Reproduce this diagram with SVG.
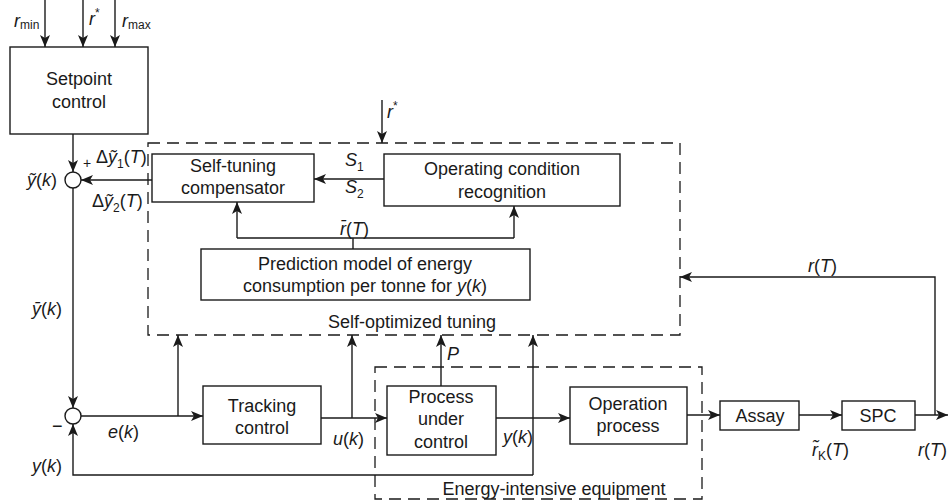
<svg xmlns="http://www.w3.org/2000/svg" width="949" height="503" viewBox="0 0 949 503">
<defs>
<style>
.box{fill:#fff;stroke:#1a1a1a;stroke-width:1.4}
.dash{fill:none;stroke:#1a1a1a;stroke-width:1.3;stroke-dasharray:12 7}
.ln{fill:none;stroke:#1a1a1a;stroke-width:1.4}
.ar{fill:none;stroke:#1a1a1a;stroke-width:1.4;marker-end:url(#ah)}
text{font-family:"Liberation Sans",Arial,sans-serif;font-size:18px;fill:#1a1a1a}
.c{text-anchor:middle}
.i{font-style:italic}
.sub{font-size:12px;font-style:normal}
</style>
<marker id="ah" markerUnits="userSpaceOnUse" markerWidth="12" markerHeight="10" refX="12" refY="5" orient="auto">
<path d="M0,0 L12,5 L0,10 L3,5 z" fill="#1a1a1a"/>
</marker>
</defs>
<rect width="949" height="503" fill="#fff"/>

<g id="self-optimized-tuning">
<rect class="dash" x="148" y="143" width="532" height="192"/>
<text class="c" x="412" y="328">Self-optimized tuning</text>
</g>
<g id="energy-intensive-equipment">
<rect class="dash" x="375" y="367" width="327" height="132"/>
<text class="c" x="554" y="495">Energy-intensive equipment</text>
</g>

<g id="connectors">
<path class="ar" d="M45,0 V47"/>
<path class="ar" d="M83,0 V47"/>
<path class="ar" d="M115,0 V47"/>
<path class="ar" d="M73,134 V172"/>
<path class="ar" d="M152,180 H81"/>
<path class="ar" d="M73,188 V408"/>
<path class="ar" d="M382,100 V143"/>
<path class="ar" d="M384,179 H314"/>
<path class="ln" d="M353,249 V238 M237,238 H514"/>
<path class="ar" d="M237,238 V202"/>
<path class="ar" d="M514,238 V206"/>
<path class="ar" d="M81,416 H203"/>
<path class="ar" d="M178,416 V335"/>
<path class="ar" d="M321,418 H387"/>
<path class="ar" d="M352,418 V335"/>
<path class="ar" d="M441,386 V335"/>
<path class="ar" d="M496,418 H570"/>
<path class="ar" d="M533,475 V335"/>
<path class="ar" d="M533,475 H73 V424"/>
<path class="ar" d="M687,415 H720"/>
<path class="ar" d="M799,415 H842"/>
<path class="ar" d="M915,415 H948"/>
<path class="ar" d="M935,415 V277 H680"/>
</g>

<g id="setpoint-control">
<rect class="box" x="10" y="47" width="138" height="87"/>
<text class="c" x="79" y="85">Setpoint</text>
<text class="c" x="79" y="108">control</text>
</g>
<g id="sum-top"><circle class="box" cx="73" cy="180" r="8"/></g>
<g id="sum-bottom"><circle class="box" cx="73" cy="416" r="8"/></g>
<g id="self-tuning-compensator">
<rect class="box" x="152" y="154" width="162" height="48"/>
<text class="c" x="233" y="172">Self-tuning</text>
<text class="c" x="233" y="194">compensator</text>
</g>
<g id="operating-condition-recognition">
<rect class="box" x="384" y="154" width="236" height="52"/>
<text class="c" x="502" y="175">Operating condition</text>
<text class="c" x="502" y="198">recognition</text>
</g>
<g id="prediction-model">
<rect class="box" x="201" y="249" width="329" height="51"/>
<text class="c" x="365" y="270">Prediction model of energy</text>
<text class="c" x="365" y="292">consumption per tonne for <tspan class="i">y</tspan>(<tspan class="i">k</tspan>)</text>
</g>
<g id="tracking-control">
<rect class="box" x="203" y="386" width="118" height="58"/>
<text class="c" x="262" y="412">Tracking</text>
<text class="c" x="262" y="434">control</text>
</g>
<g id="process-under-control">
<rect class="box" x="387" y="386" width="109" height="69"/>
<text class="c" x="441" y="403">Process</text>
<text class="c" x="441" y="425">under</text>
<text class="c" x="441" y="448">control</text>
</g>
<g id="operation-process">
<rect class="box" x="570" y="387" width="117" height="57"/>
<text class="c" x="628" y="410">Operation</text>
<text class="c" x="628" y="432">process</text>
</g>
<g id="assay">
<rect class="box" x="720" y="401" width="79" height="29"/>
<text class="c" x="760" y="422">Assay</text>
</g>
<g id="spc">
<rect class="box" x="842" y="401" width="73" height="29"/>
<text class="c" x="878" y="422">SPC</text>
</g>

<g id="labels">
<text x="14" y="27"><tspan class="i">r</tspan><tspan class="sub" dy="2">min</tspan></text>
<text x="89" y="25"><tspan class="i">r</tspan><tspan class="sub" dy="-8">*</tspan></text>
<text x="122" y="27"><tspan class="i">r</tspan><tspan class="sub" dy="2">max</tspan></text>
<text x="387" y="118"><tspan class="i">r</tspan><tspan class="sub" dy="-8">*</tspan></text>
<text x="83" y="168" style="font-size:14px">+</text>
<text x="27" y="186"><tspan class="i">ỹ</tspan>(<tspan class="i">k</tspan>)</text>
<text x="96" y="163">Δ<tspan class="i">ỹ</tspan><tspan class="sub" dy="5">1</tspan><tspan dy="-5">(</tspan><tspan class="i">T</tspan>)</text>
<text x="92" y="207">Δ<tspan class="i">ỹ</tspan><tspan class="sub" dy="5">2</tspan><tspan dy="-5">(</tspan><tspan class="i">T</tspan>)</text>
<text x="345" y="166"><tspan class="i">S</tspan><tspan class="sub" dy="5">1</tspan></text>
<text x="345" y="193"><tspan class="i">S</tspan><tspan class="sub" dy="5">2</tspan></text>
<text x="340" y="235"><tspan class="i">r̄</tspan>(<tspan class="i">T</tspan>)</text>
<text x="32" y="315"><tspan class="i">ȳ</tspan>(<tspan class="i">k</tspan>)</text>
<text x="52" y="432">−</text>
<text x="108" y="438"><tspan class="i">e</tspan>(<tspan class="i">k</tspan>)</text>
<text x="333" y="445"><tspan class="i">u</tspan>(<tspan class="i">k</tspan>)</text>
<text x="32" y="472"><tspan class="i">y</tspan>(<tspan class="i">k</tspan>)</text>
<text x="447" y="360" class="i">P</text>
<text x="503" y="443"><tspan class="i">y</tspan>(<tspan class="i">k</tspan>)</text>
<text x="808" y="272"><tspan class="i">r</tspan>(<tspan class="i">T</tspan>)</text>
<text x="812" y="456"><tspan class="i">r̃</tspan><tspan class="sub" dy="4">K</tspan><tspan dy="-4">(</tspan><tspan class="i">T</tspan>)</text>
<text x="918" y="456"><tspan class="i">r</tspan>(<tspan class="i">T</tspan>)</text>
</g>
</svg>
